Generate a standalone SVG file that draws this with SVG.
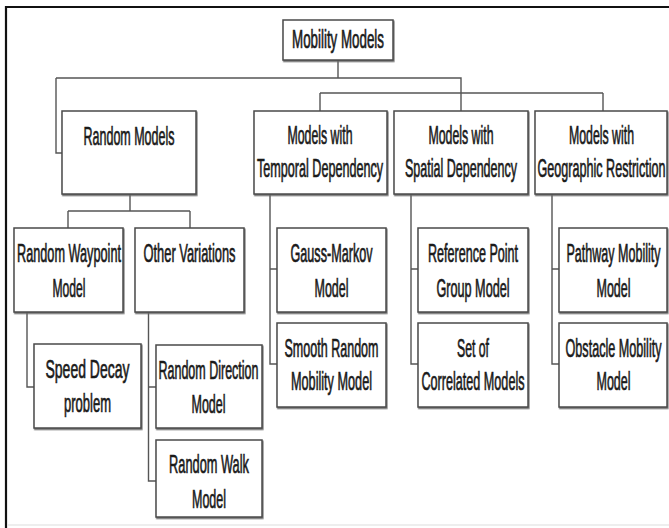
<svg xmlns="http://www.w3.org/2000/svg" width="669" height="528" viewBox="0 0 669 528">
<defs>
<filter id="sh" x="-5%" y="-5%" width="115%" height="120%">
<feDropShadow dx="0.8" dy="1.4" stdDeviation="0.5" flood-color="#666" flood-opacity="0.9"/>
</filter>
<style>
.box{fill:#fff;stroke:#4a4a4a;stroke-width:1.5;filter:url(#sh)}
.t{font-family:"Liberation Sans","Arial",sans-serif;font-size:25px;fill:#1a1a1a;stroke:#1a1a1a;stroke-width:0.7;text-anchor:middle}
.c{fill:none;stroke:#555;stroke-width:1.4}
</style>
</defs>
<rect x="0" y="0" width="669" height="528" fill="#fff"/>
<g id="frame">
<path d="M6 528 V7 H669" fill="none" stroke="#111" stroke-width="2.2"/>
<line x1="8" y1="525" x2="669" y2="525" stroke="#ddd" stroke-width="1"/>
</g>
<g id="connectors">
<path class="c" d="M338 60 V78 M56 78 H461 V111 M56 78 V153 H62 M320 93 H603 M320 93 V111 M603 93 V111"/>
<path class="c" d="M130 194 V211 M68 211 H190 M68 211 V228 M190 211 V228"/>
<path class="c" d="M27 312 V387 H34"/>
<path class="c" d="M148.5 312 V481 H156 M148.5 387 H156"/>
<path class="c" d="M270 194 V364 H277 M270 269 H277"/>
<path class="c" d="M411 194 V364 H418 M411 269 H418"/>
<path class="c" d="M552 194 V364 H559 M552 269 H559"/>
</g>
<g id="mobility-models">
<rect class="box" x="283" y="20" width="110" height="40"/>
<text class="t" transform="matrix(0.5 0 0 1 338 48)" textLength="184" lengthAdjust="spacingAndGlyphs">Mobility Models</text>
</g>
<g id="random-models">
<rect class="box" x="62" y="111" width="134" height="83"/>
<text class="t" transform="matrix(0.5 0 0 1 129 145)" textLength="182" lengthAdjust="spacingAndGlyphs">Random Models</text>
</g>
<g id="temporal">
<rect class="box" x="254" y="111" width="133" height="83"/>
<text class="t" transform="matrix(0.5 0 0 1 320 144)" textLength="130" lengthAdjust="spacingAndGlyphs">Models with</text>
<text class="t" transform="matrix(0.5 0 0 1 320 177)" textLength="252" lengthAdjust="spacingAndGlyphs">Temporal Dependency</text>
</g>
<g id="spatial">
<rect class="box" x="394" y="111" width="134" height="83"/>
<text class="t" transform="matrix(0.5 0 0 1 461 144)" textLength="130" lengthAdjust="spacingAndGlyphs">Models with</text>
<text class="t" transform="matrix(0.5 0 0 1 461 177)" textLength="224" lengthAdjust="spacingAndGlyphs">Spatial Dependency</text>
</g>
<g id="geographic">
<rect class="box" x="535" y="111" width="132" height="83"/>
<text class="t" transform="matrix(0.5 0 0 1 601.5 144)" textLength="130" lengthAdjust="spacingAndGlyphs">Models with</text>
<text class="t" transform="matrix(0.5 0 0 1 601.5 177)" textLength="256" lengthAdjust="spacingAndGlyphs">Geographic Restriction</text>
</g>
<g id="random-waypoint">
<rect class="box" x="14" y="228" width="109" height="84"/>
<text class="t" transform="matrix(0.5 0 0 1 69 262)" textLength="208" lengthAdjust="spacingAndGlyphs">Random Waypoint</text>
<text class="t" transform="matrix(0.5 0 0 1 69 297)" textLength="66" lengthAdjust="spacingAndGlyphs">Model</text>
</g>
<g id="other-variations">
<rect class="box" x="135" y="228" width="109" height="84"/>
<text class="t" transform="matrix(0.5 0 0 1 189.5 262)" textLength="184" lengthAdjust="spacingAndGlyphs">Other Variations</text>
</g>
<g id="gauss-markov">
<rect class="box" x="277" y="228" width="109" height="84"/>
<text class="t" transform="matrix(0.5 0 0 1 331.5 262)" textLength="164" lengthAdjust="spacingAndGlyphs">Gauss-Markov</text>
<text class="t" transform="matrix(0.5 0 0 1 331.5 297)" textLength="68" lengthAdjust="spacingAndGlyphs">Model</text>
</g>
<g id="reference-point">
<rect class="box" x="418" y="228" width="110" height="84"/>
<text class="t" transform="matrix(0.5 0 0 1 473 262)" textLength="180" lengthAdjust="spacingAndGlyphs">Reference Point</text>
<text class="t" transform="matrix(0.5 0 0 1 473 297)" textLength="146" lengthAdjust="spacingAndGlyphs">Group Model</text>
</g>
<g id="pathway">
<rect class="box" x="559" y="228" width="108" height="84"/>
<text class="t" transform="matrix(0.5 0 0 1 613.5 262)" textLength="188" lengthAdjust="spacingAndGlyphs">Pathway Mobility</text>
<text class="t" transform="matrix(0.5 0 0 1 613.5 297)" textLength="68" lengthAdjust="spacingAndGlyphs">Model</text>
</g>
<g id="smooth-random">
<rect class="box" x="277" y="323" width="109" height="84"/>
<text class="t" transform="matrix(0.5 0 0 1 331.5 357)" textLength="188" lengthAdjust="spacingAndGlyphs">Smooth Random</text>
<text class="t" transform="matrix(0.5 0 0 1 331.5 390)" textLength="162" lengthAdjust="spacingAndGlyphs">Mobility Model</text>
</g>
<g id="correlated">
<rect class="box" x="418" y="323" width="110" height="84"/>
<text class="t" transform="matrix(0.5 0 0 1 473 357)" textLength="64" lengthAdjust="spacingAndGlyphs">Set of</text>
<text class="t" transform="matrix(0.5 0 0 1 473 390)" textLength="206" lengthAdjust="spacingAndGlyphs">Correlated Models</text>
</g>
<g id="obstacle">
<rect class="box" x="559" y="323" width="108" height="84"/>
<text class="t" transform="matrix(0.5 0 0 1 613.5 357)" textLength="192" lengthAdjust="spacingAndGlyphs">Obstacle Mobility</text>
<text class="t" transform="matrix(0.5 0 0 1 613.5 390)" textLength="68" lengthAdjust="spacingAndGlyphs">Model</text>
</g>
<g id="speed-decay">
<rect class="box" x="34" y="344" width="107" height="84"/>
<text class="t" transform="matrix(0.5 0 0 1 87.5 378)" textLength="168" lengthAdjust="spacingAndGlyphs">Speed Decay</text>
<text class="t" transform="matrix(0.5 0 0 1 87.5 412)" textLength="94" lengthAdjust="spacingAndGlyphs">problem</text>
</g>
<g id="random-direction">
<rect class="box" x="156" y="345" width="106" height="83"/>
<text class="t" transform="matrix(0.5 0 0 1 208.5 379)" textLength="200" lengthAdjust="spacingAndGlyphs">Random Direction</text>
<text class="t" transform="matrix(0.5 0 0 1 208.5 413)" textLength="68" lengthAdjust="spacingAndGlyphs">Model</text>
</g>
<g id="random-walk">
<rect class="box" x="156" y="440" width="106" height="77"/>
<text class="t" transform="matrix(0.5 0 0 1 209 473)" textLength="160" lengthAdjust="spacingAndGlyphs">Random Walk</text>
<text class="t" transform="matrix(0.5 0 0 1 209 508)" textLength="68" lengthAdjust="spacingAndGlyphs">Model</text>
</g>
</svg>
